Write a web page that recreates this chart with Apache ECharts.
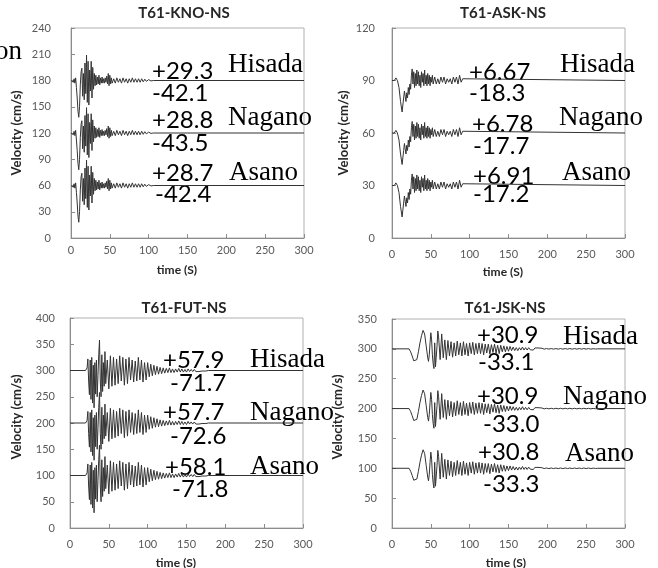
<!DOCTYPE html>
<html>
<head>
<meta charset="utf-8">
<script src="https://cdn.jsdelivr.net/npm/echarts@6/dist/echarts.min.js"></script>
<style>
  html, body { margin: 0; padding: 0; background: #fff; }
  #chart { width: 658px; height: 568px; }
</style>
</head>
<body>
<div id="chart"></div>
<script>
// panel settings
const titles = ['T61-KNO-NS', 'T61-ASK-NS', 'T61-FUT-NS', 'T61-JSK-NS'];
const yMax = [240, 120, 400, 350];
const yStep = [30, 30, 50, 50];
const models = ['Hisada', 'Nagano', 'Asano'];
// baseline offset of each trace (Hisada, Nagano, Asano)
const baselines = [[180, 120, 60], [90, 60, 30], [300, 200, 100], [300, 200, 100]];
const peakPos = [['+29.3', '+28.8', '+28.7'], ['+6.67', '+6.78', '+6.91'], ['+57.9', '+57.7', '+58.1'], ['+30.9', '+30.9', '+30.8']];
const peakNeg = [['-42.1', '-43.5', '-42.4'], ['-18.3', '-17.7', '-17.2'], ['-71.7', '-72.6', '-71.8'], ['-33.1', '-33.0', '-33.3']];

// velocity waveforms: [time (s), velocity (cm/s)]
const knoWave = [[0,0],[2,1],[3,-2],[4,2],[5,-3],[6,3],[7,-8],[8,-20],[9,-35],[10,-42],[11,-30],[12,-5],[13,10],[14,14],[15,-18],[16,8],[17,-22],[18,20],[19,-15],[20,29],[21,-25],[22,22],[23,-28],[24,12],[25,-12],[26,22],[27,-20],[28,15],[29,-10],[30,8],[31,-6],[32,6],[33,-5],[34,4],[35,-4],[36,6],[37,-5],[38,3],[39,-3],[40,4],[41,-3],[42,2],[43,-3],[44,3],[45,-2],[46,5],[47,-4],[48,8],[49,-6],[50,6],[51,-4],[52,3],[53,-3],[55,2],[57,-3],[59,3],[61,-2],[63,2],[65,-3],[67,3],[69,-2],[71,2],[73,-3],[75,2],[77,-2],[79,3],[81,-2],[83,2],[85,-2],[87,2],[89,-2],[91,2],[93,-1.5],[95,1.5],[97,-1],[100,1],[103,-0.5],[106,0],[300,0]];
const askWave = [[0,0],[3,0],[5,1.5],[7,0],[9,-4],[11,-12],[13,-18],[15,-10],[16,-6],[17,-9],[18,-12],[19,-7],[20,-10],[21,-4],[22,-8],[23,-2],[24,-5],[25,3],[26,6.6],[27,-2],[28,5],[29,-4],[30,4],[31,-3],[32,6],[33,-2],[34,5],[35,-3],[36,3],[37,-4],[38,5],[39,-1],[40,4],[41,-3],[42,6],[43,-2],[44,3],[45,-3],[46,4],[47,-2],[48,3],[49,-3],[50,2],[51,-1],[52,3],[53,-2],[55,2],[57,-2],[59,1],[61,-2],[63,2],[65,-1],[67,2],[69,-2],[71,1],[73,-1],[75,1],[77,-2],[79,2],[81,-1],[83,2],[85,-2],[87,3],[89,-1],[91,1],[93,0],[300,0]];
const futWave = [[0,0],[20,0],[21,-3],[22,5],[23,22],[24,-20],[25,-46],[26,20],[27,-55],[28,25],[29,-62],[30,10],[31,-71],[32,15],[33,-45],[34,20],[35,-50],[36,-10],[37,30],[38,58],[39,-20],[40,-50],[41,30],[42,-40],[43,15],[44,-30],[45,36],[46,-25],[48,20],[50,-35],[52,28],[54,-30],[56,25],[58,-28],[60,22],[62,-25],[64,28],[66,-20],[68,25],[70,-28],[72,22],[74,-25],[76,25],[78,-18],[80,20],[82,-22],[84,18],[86,-20],[88,25],[90,-18],[92,20],[94,-22],[96,15],[98,-18],[100,15],[102,-12],[104,12],[106,-10],[108,10],[110,-8],[112,8],[114,-7],[116,6],[118,-6],[120,5],[122,-5],[124,4],[126,-4],[128,5],[130,-4],[132,3],[134,-4],[136,3],[138,-3],[140,4],[142,-3],[144,3],[146,-3],[148,2],[150,-3],[152,3],[154,-2],[156,2],[158,-2],[160,2],[162,-2],[164,1],[166,-2],[168,1],[170,-1],[172,1],[175,-1],[178,0],[300,0]];
const jskWave = [[0,0],[18,0],[20,3],[22,0],[24,-5],[26,-12],[28,-20],[30,-23],[32,-18],[34,-5],[36,10],[38,22],[40,31],[42,25],[44,5],[46,-15],[47,-21],[48,-10],[49,10],[50,27],[51,15],[52,-10],[53,-25],[54,-33],[55,10],[56,-30],[57,-33],[58,5],[59,30],[60,20],[62,-18],[64,25],[66,-15],[68,15],[70,-18],[72,14],[74,-12],[76,12],[78,-14],[80,10],[82,-12],[84,13],[86,-10],[88,10],[90,-12],[92,12],[94,-10],[96,9],[98,-12],[100,10],[102,-8],[104,11],[106,-10],[108,9],[110,-8],[112,10],[114,-8],[116,9],[118,-10],[120,8],[122,-7],[124,8],[126,-9],[128,7],[130,-6],[132,8],[134,-7],[136,6],[138,-8],[140,6],[142,-5],[144,5],[146,-5],[148,4],[150,-4],[152,4],[154,-3],[156,3],[158,-3],[160,2],[162,-3],[164,2],[166,-2],[168,3],[170,-2],[172,2],[174,-2],[176,2],[178,-1.5],[180,1.5],[182,-2],[184,1.5],[186,-1],[188,1.5],[190,-1],[193,1],[196,-0.5],[199,0.5],[202,-0.5],[205,0.5],[208,-0.5],[211,0.5],[214,-0.5],[217,0.5],[220,-0.5],[223,0.5],[226,-0.5],[229,0.5],[232,-0.5],[235,0.5],[238,-0.5],[241,0.5],[244,-0.5],[247,0.5],[250,-0.5],[253,0.5],[256,-0.5],[259,0.3],[262,-0.3],[265,0],[300,0]];
const waves = [knoWave, askWave, futWave, jskWave];

// layout (pixels)
const grids = [
  { left: 71, top: 28, width: 233, height: 210 },
  { left: 392, top: 28, width: 233, height: 210 },
  { left: 70, top: 318, width: 233, height: 210 },
  { left: 392, top: 319, width: 233, height: 209 }
];
const labelMargin = [20, 17, 15, 15];
const xLabelMargin = [7, 11, 11, 11];
const titlePos = [[184, 13], [503, 13], [184, 308], [505, 308]];
const xNamePos = [[177, 270], [503, 272], [176, 563], [506, 563]];
const yNamePos = [[17, 133], [344, 133], [17, 417], [338, 417]];
// [left x of +peak, y], [left x of -peak, y], [left x of model, y] per trace
const annPos = [
  [[[152, 71], [152, 93], [228, 65]], [[152, 120], [152, 143], [228, 118]], [[152, 173], [155, 194], [229, 173]]],
  [[[469, 72], [469, 93], [560, 65]], [[472, 124], [473, 146], [559, 118]], [[473, 176], [473, 194], [562, 173]]],
  [[[163, 360], [170, 383], [250, 360]], [[163, 412], [170, 436], [250, 413]], [[165, 467], [172, 489], [250, 467]]],
  [[[477, 335], [478, 362], [563, 337]], [[477, 396], [483, 424], [563, 397]], [[478, 452], [483, 484], [565, 454]]]
];

const xAxes = [], yAxes = [], series = [], graphic = [];
grids.forEach((g, i) => {
  xAxes.push({
    type: 'value', gridIndex: i, min: 0, max: 300, interval: 50,
    axisLine: { lineStyle: { color: '#8c8c8c' } },
    axisTick: { inside: true, length: 4, lineStyle: { color: '#8c8c8c' } },
    splitLine: { show: false },
    axisLabel: { color: '#595959', fontFamily: 'Lato', fontSize: 11, margin: xLabelMargin[i] }
  });
  yAxes.push({
    type: 'value', gridIndex: i, min: 0, max: yMax[i], interval: yStep[i],
    axisLine: { show: true, lineStyle: { color: '#8c8c8c' } },
    axisTick: { show: true, inside: true, length: 4, lineStyle: { color: '#8c8c8c' } },
    splitLine: { show: false },
    axisLabel: { color: '#595959', fontFamily: 'Lato', fontSize: 11, margin: labelMargin[i] }
  });
  baselines[i].forEach((b, k) => {
    series.push({
      name: titles[i] + ' ' + models[k],
      type: 'line', xAxisIndex: i, yAxisIndex: i,
      showSymbol: false, silent: true,
      lineStyle: { color: '#333', width: 1 },
      data: waves[i].map(p => [p[0], p[1] + b])
    });
    const a = annPos[i][k];
    graphic.push(
      { type: 'text', x: a[0][0], y: a[0][1], style: { text: peakPos[i][k], fill: '#000', font: '24px Lato', textAlign: 'left', textVerticalAlign: 'middle' } },
      { type: 'text', x: a[1][0], y: a[1][1], style: { text: peakNeg[i][k], fill: '#000', font: '24px Lato', textAlign: 'left', textVerticalAlign: 'middle' } },
      { type: 'text', x: a[2][0], y: a[2][1], style: { text: models[k], fill: '#000', font: '27px "Liberation Serif"', textAlign: 'left', textVerticalAlign: 'middle' } }
    );
  });
  graphic.push(
    { type: 'text', x: titlePos[i][0], y: titlePos[i][1], style: { text: titles[i], fill: '#262626', font: 'bold 15px Lato', textAlign: 'center', textVerticalAlign: 'middle' } },
    { type: 'text', x: xNamePos[i][0], y: xNamePos[i][1], style: { text: 'time (S)', fill: '#262626', font: 'bold 12px Lato', textAlign: 'center', textVerticalAlign: 'middle' } },
    { type: 'text', x: yNamePos[i][0], y: yNamePos[i][1], rotation: Math.PI / 2, style: { text: 'Velocity (cm/s)', fill: '#262626', font: 'bold 13px Lato', textAlign: 'center', textVerticalAlign: 'middle' } }
  );
});
// cropped word at the upper left edge
graphic.push({ type: 'text', x: 22, y: 52, style: { text: 'on', fill: '#000', font: '27px "Liberation Serif"', textAlign: 'right', textVerticalAlign: 'middle' } });

const chart = echarts.init(document.getElementById('chart'));
chart.setOption({
  animation: false,
  grid: grids.map(g => Object.assign({ show: true, borderColor: '#b0b0b0', borderWidth: 1, backgroundColor: 'transparent' }, g)),
  xAxis: xAxes,
  yAxis: yAxes,
  series: series,
  graphic: graphic
});
</script>
</body>
</html>
